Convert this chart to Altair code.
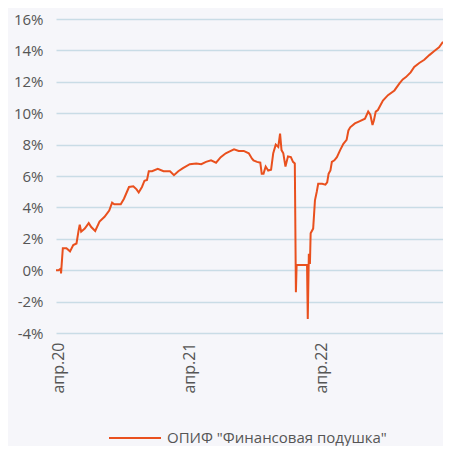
import altair as alt
import pandas as pd

# Series (% return)
dates = [
    "2020-03-25", "2020-04-01", "2020-04-07", "2020-04-08", "2020-04-13", "2020-04-23",
    "2020-05-03", "2020-05-12", "2020-05-21", "2020-05-27", "2020-05-30", "2020-06-03",
    "2020-06-13", "2020-06-24", "2020-07-01", "2020-07-12", "2020-07-24", "2020-08-07",
    "2020-08-20", "2020-08-28", "2020-09-03", "2020-09-21", "2020-09-30", "2020-10-14",
    "2020-10-26", "2020-11-04", "2020-11-10", "2020-11-19", "2020-11-26", "2020-12-03",
    "2020-12-08", "2020-12-17", "2021-01-02", "2021-01-18", "2021-02-05", "2021-02-16",
    "2021-02-28", "2021-03-13", "2021-04-01", "2021-04-19", "2021-05-03", "2021-05-16",
    "2021-05-30", "2021-06-13", "2021-06-26", "2021-07-10", "2021-07-24", "2021-08-02",
    "2021-08-15", "2021-08-29", "2021-09-12", "2021-09-21", "2021-09-25", "2021-10-05",
    "2021-10-14", "2021-10-18", "2021-10-23", "2021-10-29", "2021-11-05", "2021-11-13",
    "2021-11-19", "2021-11-26", "2021-12-03", "2021-12-08", "2021-12-12", "2021-12-17",
    "2021-12-23", "2021-12-30", "2022-01-07", "2022-01-13", "2022-01-18", "2022-01-21",
    "2022-01-23", "2022-02-21", "2022-02-23", "2022-02-26", "2022-03-01", "2022-03-03",
    "2022-03-10", "2022-03-15", "2022-03-20", "2022-03-24", "2022-04-04", "2022-04-13",
    "2022-04-18", "2022-04-22", "2022-04-27", "2022-05-01", "2022-05-08", "2022-05-15",
    "2022-05-24", "2022-06-02", "2022-06-11", "2022-06-16", "2022-06-21", "2022-07-04",
    "2022-07-18", "2022-08-01", "2022-08-10", "2022-08-16", "2022-08-22", "2022-08-26",
    "2022-08-31", "2022-09-06", "2022-09-20", "2022-10-04", "2022-10-22", "2022-11-05",
    "2022-11-14", "2022-11-23", "2022-12-06", "2022-12-16", "2022-12-30", "2023-01-13",
    "2023-01-27", "2023-02-09", "2023-02-23", "2023-03-06",
]
values = [
    0.0, 0.0, 0.1, -0.2, 1.4, 1.4,
    1.2, 1.6, 1.7, 2.55, 2.9, 2.45,
    2.65, 3.0, 2.75, 2.5, 3.1, 3.4,
    3.8, 4.3, 4.2, 4.2, 4.55, 5.3,
    5.35, 5.15, 4.95, 5.3, 5.7, 5.75,
    6.3, 6.3, 6.45, 6.3, 6.3, 6.05,
    6.3, 6.5, 6.75, 6.8, 6.75, 6.9,
    7.0, 6.85, 7.2, 7.45, 7.6, 7.7,
    7.6, 7.6, 7.45, 7.1, 7.0, 6.9,
    6.85, 6.15, 6.15, 6.6, 6.35, 6.4,
    7.45, 8.0, 7.85, 8.7, 7.65, 7.45,
    6.6, 7.25, 7.2, 6.9, 6.8, -1.4,
    0.33, 0.33, -3.1, 1.05, 0.4, 2.35,
    2.65, 4.45, 5.0, 5.5, 5.5, 5.45,
    5.6, 6.15, 6.35, 6.9, 7.0, 7.2,
    7.65, 8.05, 8.3, 8.9, 9.1, 9.35,
    9.5, 9.65, 10.1, 9.9, 9.25, 9.55,
    10.1, 10.2, 10.8, 11.15, 11.45, 11.9,
    12.15, 12.3, 12.6, 12.95, 13.2, 13.4,
    13.7, 13.95, 14.2, 14.55,
]
series_name = 'ОПИФ "Финансовая подушка"'

x_tick_dates = ["2020-04-01", "2021-04-01", "2022-04-01"]
x_tick_labels = ["апр.20", "апр.21", "апр.22"]
y_ticks = [-4, -2, 0, 2, 4, 6, 8, 10, 12, 14, 16]

df = pd.DataFrame({"date": dates, "value": values, "series": series_name})

label_map = "{" + ",".join(f"'{d}':'{l}'" for d, l in zip(x_tick_dates, x_tick_labels)) + "}"
x_label_expr = label_map + "[utcFormat(datum.value, '%Y-%m-%d')]"

FONT = "Open Sans"
TEXT = "#555555"

x_vals = [alt.DateTime(year=int(d[:4]), month=int(d[5:7]), date=int(d[8:]), utc=True) for d in x_tick_dates]

chart = alt.Chart(df).mark_line(strokeWidth=2, interpolate="linear").encode(
    x=alt.X(
        "date:T",
        scale=alt.Scale(type="utc", domain=[dates[0], dates[-1]], nice=False),
        axis=alt.Axis(
            values=x_vals,
            labelExpr=x_label_expr,
            labelAngle=-90,
            labelPadding=9,
            grid=False,
            ticks=False,
            domain=False,
            title=None,
            labelFont=FONT,
            labelFontSize=16,
            labelColor=TEXT,
        ),
    ),
    y=alt.Y(
        "value:Q",
        scale=alt.Scale(domain=[-4, 16], nice=False, zero=False),
        axis=alt.Axis(
            values=y_ticks,
            labelExpr="datum.value + '%'",
            labelPadding=13,
            grid=True,
            gridColor="#C9DCE6",
            gridWidth=1.3,
            ticks=False,
            domain=False,
            title=None,
            labelFont=FONT,
            labelFontSize=15,
            labelColor=TEXT,
        ),
    ),
    color=alt.Color(
        "series:N",
        scale=alt.Scale(range=["#E9501E"]),
        legend=alt.Legend(
            title=None,
            orient="none",
            legendX=52,
            legendY=392,
            padding=0,
            symbolType="stroke",
            symbolSize=2704,
            symbolStrokeWidth=2,
            labelOffset=5,
            labelLimit=400,
            labelFont=FONT,
            labelFontSize=15,
            labelColor=TEXT,
        ),
    ),
).properties(
    width=387,
    height=314,
    background="#F6F6FA",
    padding={"left": 48, "top": 11, "right": 0, "bottom": 113},
    autosize=alt.AutoSizeParams(type="none"),
).configure_view(stroke=None)

chart.save("out.html", embed_options={"renderer": "svg", "actions": False})
